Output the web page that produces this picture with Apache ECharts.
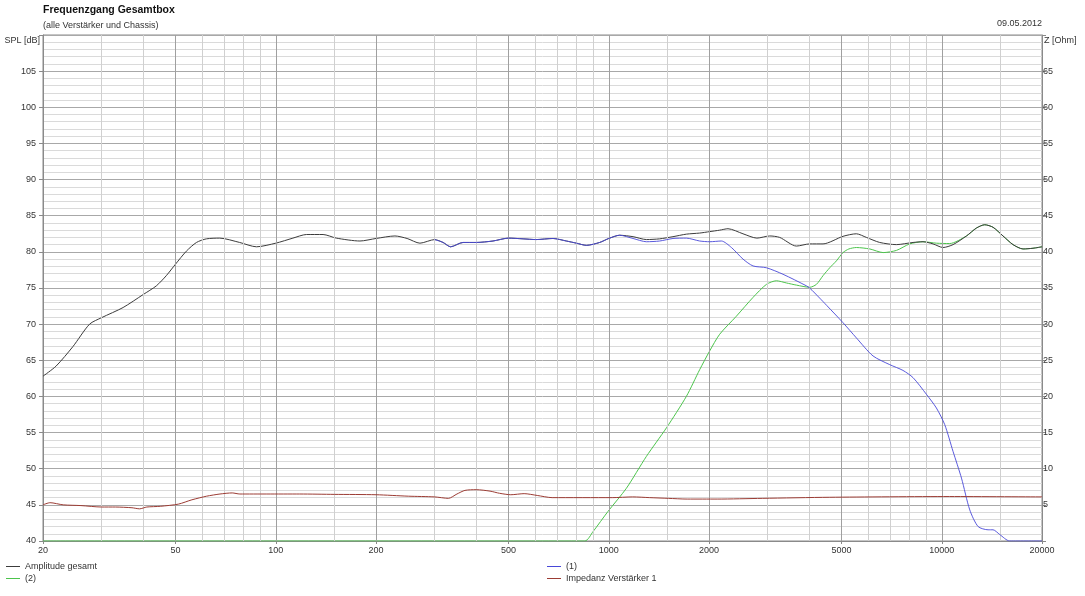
<!DOCTYPE html>
<html>
<head>
    <meta charset="utf-8">
    <title>Frequenzgang Gesamtbox</title>
    <script src="https://cdn.jsdelivr.net/npm/echarts@6/dist/echarts.min.js"></script>
    <style>
        html, body { margin: 0; padding: 0; background: #fff; }
        #chart { width: 1085px; height: 596px; }
    </style>
</head>
<body>
<div id="chart"></div>
<script>
    // Amplitude gesamt (Hz / dB)
    var ampFreq = [20, 21.9, 24.6, 27.6, 30, 34.8, 40, 43.8, 46.9, 50, 53.9, 57.8, 61.9, 67.9, 77.9, 87.5, 100, 112.6, 123.6, 138.7, 152, 179, 200,
        228, 248, 271, 300, 318, 335, 365, 400, 449, 500, 553, 605, 680, 746, 800, 857, 939, 1000, 1078, 1183, 1297, 1422, 1559, 1710, 1875,
        2010, 2153, 2281, 2530, 2785, 3044, 3260, 3660, 4012, 4400, 5052, 5541, 5938, 6511, 7309, 8199, 8783, 9413, 10088, 10810, 11864,
        12713, 13460, 14256, 15273, 16369, 17540, 18795, 20000];
    var ampDb = [62.8, 64.2, 66.9, 70.0, 70.9, 72.3, 74.1, 75.3, 76.7, 78.3, 80.1, 81.3, 81.8, 81.9, 81.3, 80.7, 81.2, 81.9, 82.4, 82.4, 81.9, 81.5, 81.85,
        82.2, 81.85, 81.2, 81.7, 81.3, 80.7, 81.3, 81.3, 81.5, 81.9, 81.8, 81.7, 81.85, 81.5, 81.2, 80.9, 81.3, 81.85, 82.3, 82.1, 81.7, 81.8, 82.1, 82.45, 82.6,
        82.8, 83.0, 83.2, 82.5, 81.9, 82.2, 82.0, 80.8, 81.1, 81.1, 82.15, 82.5, 82.0, 81.3, 81.0, 81.3, 81.4, 81.1, 80.6, 81.0, 82.2,
        83.3, 83.75, 83.4, 82.2, 81.0, 80.4, 80.5, 80.7];

    // (1)
    var oneFreq = [300, 318, 335, 365, 400, 449, 500, 553, 605, 680, 746, 800, 857, 939, 1000, 1078, 1183, 1297, 1422, 1559, 1710, 1875,
        2010, 2179, 2336, 2530, 2712, 2975, 3337, 3922, 4012, 4300, 4511, 5052, 5541, 6217, 6977, 7647, 8199, 8991, 9636, 10207, 10810,
        11461, 12137, 12858, 13777, 14256, 14929, 15996, 20000];
    var oneDb = [81.7, 81.3, 80.7, 81.3, 81.3, 81.5, 81.9, 81.8, 81.7, 81.85, 81.5, 81.2, 80.9, 81.3, 81.85, 82.3, 81.85, 81.4, 81.5, 81.85, 81.9, 81.5,
        81.4, 81.5, 80.6, 79.0, 78.05, 77.8, 76.9, 75.3, 75.0, 73.6, 72.6, 70.2, 68.1, 65.6, 64.4, 63.6, 62.6, 60.3, 58.4, 56.1, 52.4,
        48.7, 44.3, 42.0, 41.55, 41.55, 40.9, 40.0, 40.0];

    // (2)
    var twoFreq = [20, 847, 897, 995, 1130, 1297, 1490, 1710, 1875, 2010, 2153, 2417, 2712, 2975, 3187, 3415, 3660, 4012, 4203, 4399, 4609,
        4826, 5052, 5260, 5541, 6080, 6668, 7309, 8013, 8783, 9636, 10565, 11864, 12713, 13460, 14256, 15273, 16369, 17540, 18795, 20000];
    var twoDb = [40, 40, 41.3, 44.1, 47.3, 51.7, 55.65, 60.0, 63.7, 66.3, 68.6, 71.1, 73.7, 75.5, 76.0, 75.7, 75.4, 75.1, 75.5, 76.7, 77.8,
        78.75, 79.9, 80.4, 80.6, 80.4, 79.9, 80.2, 81.1, 81.4, 81.2, 81.15, 82.2, 83.3, 83.75, 83.4, 82.2, 81.0, 80.4, 80.5, 80.7];

    // Impedanz Verstärker 1 (Hz / Ohm)
    var impFreq = [20, 21, 23, 26, 30, 33, 37, 39, 41, 45, 51, 56, 62, 68, 74, 78, 94, 118, 150, 200, 250, 300, 330, 350, 370, 400, 440,
        470, 508, 557, 610, 676, 1024, 1180, 1327, 1510, 1720, 2116, 2890, 4609, 10565, 20000];
    var impOhm = [5.0, 5.3, 5.0, 4.9, 4.7, 4.7, 4.6, 4.45, 4.7, 4.8, 5.1, 5.7, 6.2, 6.5, 6.65, 6.5, 6.5, 6.5, 6.45, 6.4, 6.2, 6.1, 5.9, 6.5, 7.0, 7.1, 6.9,
        6.6, 6.4, 6.55, 6.3, 6.0, 6.0, 6.1, 6.0, 5.9, 5.8, 5.8, 5.9, 6.05, 6.15, 6.1];

    // Achsen
    var freqLabels = [20, 50, 100, 200, 500, 1000, 2000, 5000, 10000, 20000];
    var freqMajor = [50, 100, 200, 500, 1000, 2000, 5000, 10000];
    var freqMinor = [30, 40, 60, 70, 80, 90, 150, 300, 400, 600, 700, 800, 900, 1500, 3000, 4000, 6000, 7000, 8000, 9000, 15000];

    var FONT = '"Liberation Sans", Arial, sans-serif';

    function pairs(f, v) {
        return f.map(function (x, i) { return [x, v[i]]; });
    }

    var gridLines = [];
    freqMinor.forEach(function (f) {
        gridLines.push({xAxis: f, lineStyle: {color: '#d0d0d0', width: 1, type: 'solid'}});
    });
    freqMajor.forEach(function (f) {
        gridLines.push({xAxis: f, lineStyle: {color: '#a0a0a0', width: 1, type: 'solid'}});
    });

    var myChart = echarts.init(document.getElementById('chart'), null, {renderer: 'canvas'});

    var option = {
        animation: false,
        backgroundColor: '#fff',
        textStyle: {fontFamily: FONT},
        title: [{
            text: 'Frequenzgang Gesamtbox',
            subtext: '(alle Verstärker und Chassis)',
            left: 43,
            top: 5,
            itemGap: 5,
            padding: 0,
            textStyle: {fontFamily: FONT, fontSize: 10.5, fontWeight: 'bold', color: '#111'},
            subtextStyle: {fontFamily: FONT, fontSize: 9, color: '#333'}
        }, {
            text: '09.05.2012',
            right: 43,
            top: 19,
            padding: 0,
            textStyle: {fontFamily: FONT, fontSize: 9, fontWeight: 'normal', color: '#333'}
        }],
        legend: [{
            left: 6,
            top: 561,
            orient: 'vertical',
            itemWidth: 14,
            itemHeight: 1,
            itemGap: 1,
            icon: 'rect',
            padding: 0,
            data: ['Amplitude gesamt', '(2)'],
            textStyle: {fontFamily: FONT, fontSize: 9, color: '#333', lineHeight: 11, padding: [0, 0, 0, 0]}
        }, {
            left: 547,
            top: 561,
            orient: 'vertical',
            itemWidth: 14,
            itemHeight: 1,
            itemGap: 1,
            icon: 'rect',
            padding: 0,
            data: ['(1)', 'Impedanz Verstärker 1'],
            textStyle: {fontFamily: FONT, fontSize: 9, color: '#333', lineHeight: 11, padding: [0, 0, 0, 0]}
        }],
        grid: {
            left: 43,
            right: 43,
            top: 35,
            bottom: 55,
            show: true,
            borderColor: '#8a8a8a',
            borderWidth: 1,
            containLabel: false
        },
        xAxis: {
            type: 'log',
            logBase: 10,
            min: 20,
            max: 20000,
            axisLine: {show: true, lineStyle: {color: '#8a8a8a'}},
            axisTick: {show: true, length: 3, customValues: freqLabels, lineStyle: {color: '#8a8a8a'}},
            axisLabel: {
                customValues: freqLabels,
                margin: 5,
                fontFamily: FONT,
                fontSize: 9,
                color: '#333',
                formatter: function (v) { return String(Math.round(v)); }
            },
            splitLine: {show: false},
            minorSplitLine: {show: false}
        },
        yAxis: [{
            type: 'value',
            min: 40,
            max: 110,
            interval: 5,
            name: 'SPL [dB]',
            nameLocation: 'end',
            nameGap: 0,
            nameTextStyle: {fontFamily: FONT, fontSize: 9, color: '#333', align: 'right', verticalAlign: 'top', padding: [1, 3, 0, 0]},
            axisLine: {show: true, lineStyle: {color: '#8a8a8a'}},
            axisTick: {show: true, length: 4, inside: false, lineStyle: {color: '#8a8a8a'}},
            axisLabel: {
                margin: 7,
                fontFamily: FONT,
                fontSize: 9,
                color: '#333',
                formatter: function (v) { return v >= 110 ? '' : String(v); }
            },
            splitLine: {show: true, lineStyle: {color: '#a8a8a8', width: 1}},
            minorTick: {show: false, splitNumber: 5},
            minorSplitLine: {show: true, lineStyle: {color: '#dadada', width: 1}}
        }, {
            type: 'value',
            min: 0,
            max: 70,
            interval: 5,
            position: 'right',
            name: 'Z [Ohm]',
            nameLocation: 'end',
            nameGap: 0,
            nameTextStyle: {fontFamily: FONT, fontSize: 9, color: '#333', align: 'left', verticalAlign: 'top', padding: [1, 0, 0, 2]},
            axisLine: {show: true, lineStyle: {color: '#8a8a8a'}},
            axisTick: {show: true, length: 4, inside: false, lineStyle: {color: '#8a8a8a'}},
            axisLabel: {
                margin: 1,
                fontFamily: FONT,
                fontSize: 9,
                color: '#333',
                formatter: function (v) { return (v <= 0 || v >= 70) ? '' : String(v); }
            },
            splitLine: {show: false}
        }],
        series: [{
            name: 'gitter',
            type: 'line',
            data: [[20, 40]],
            showSymbol: false,
            symbol: 'none',
            silent: true,
            lineStyle: {width: 0},
            z: 1,
            markLine: {
                silent: true,
                symbol: ['none', 'none'],
                label: {show: false},
                emphasis: {disabled: true},
                animation: false,
                data: gridLines
            }
        }, {
            name: '(2)',
            type: 'line',
            data: pairs(twoFreq, twoDb),
            showSymbol: false,
            symbol: 'none',
            smooth: 0.25,
            color: '#4cc44c',
            lineStyle: {width: 1, color: '#4cc44c'},
            z: 3
        }, {
            name: 'Amplitude gesamt',
            type: 'line',
            data: pairs(ampFreq, ampDb),
            showSymbol: false,
            symbol: 'none',
            smooth: 0.25,
            color: '#3c3c3c',
            lineStyle: {width: 1, color: '#3c3c3c'},
            z: 4
        }, {
            name: '(1)',
            type: 'line',
            data: pairs(oneFreq, oneDb),
            showSymbol: false,
            symbol: 'none',
            smooth: 0.25,
            color: '#4848d8',
            lineStyle: {width: 1, color: '#4848d8', opacity: 0.9},
            z: 5
        }, {
            name: 'Impedanz Verstärker 1',
            type: 'line',
            yAxisIndex: 1,
            data: pairs(impFreq, impOhm),
            showSymbol: false,
            symbol: 'none',
            smooth: 0.25,
            color: '#9c3c34',
            lineStyle: {width: 1, color: '#9c3c34'},
            z: 6
        }]
    };

    myChart.setOption(option);
</script>
</body>
</html>
